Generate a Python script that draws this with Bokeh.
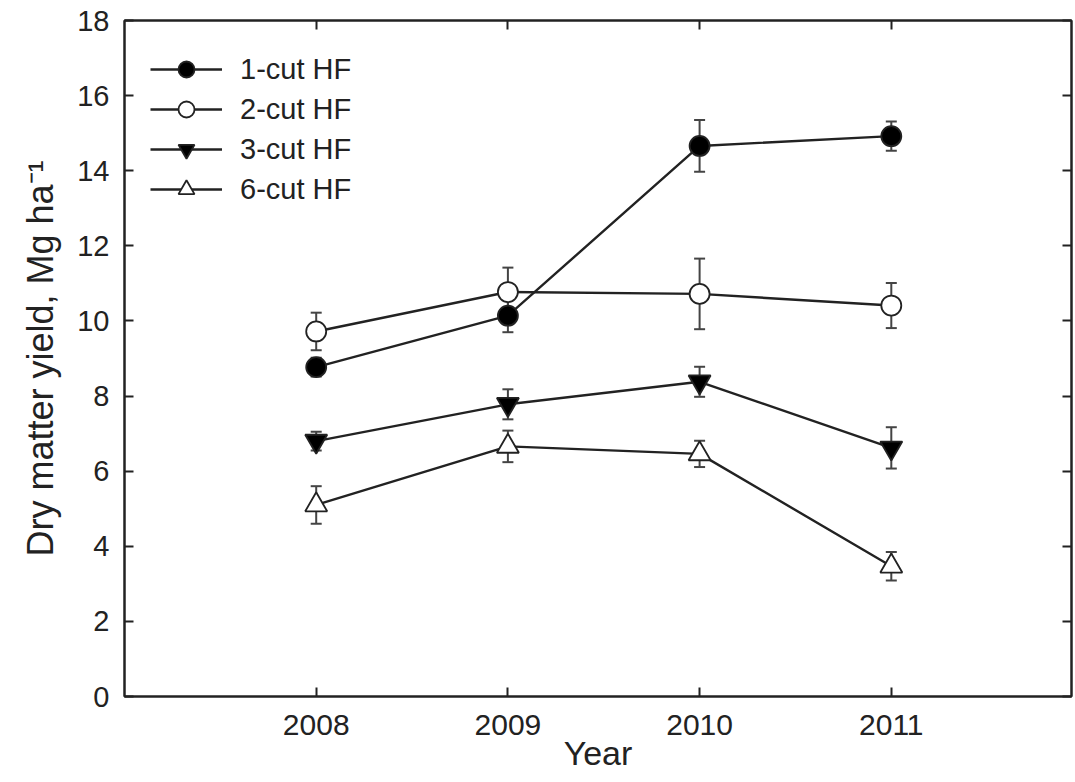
from bokeh.plotting import figure
from bokeh.models import (ColumnDataSource, Whisker, TeeHead, LinearAxis, FixedTicker,
                          Legend, LegendItem, Range1d, CustomLabelingPolicy)
from bokeh.embed import file_html
from bokeh.resources import INLINE

years = [2008, 2009, 2010, 2011]
labels = ["1-cut HF", "2-cut HF", "3-cut HF", "6-cut HF"]
cut1 = [8.77, 10.14, 14.66, 14.92]
err1 = [0.25, 0.44, 0.69, 0.39]
cut2 = [9.72, 10.77, 10.72, 10.41]
err2 = [0.50, 0.65, 0.94, 0.60]
cut3 = [6.80, 7.78, 8.38, 6.62]
err3 = [0.25, 0.40, 0.40, 0.55]
cut6 = [5.10, 6.66, 6.46, 3.47]
err6 = [0.50, 0.42, 0.35, 0.38]
y_ticks = [0, 2, 4, 6, 8, 10, 12, 14, 16, 18]

FONT = "Liberation Sans"
TXT = "#222222"

p = figure(width=1075, height=782, output_backend="svg", toolbar_location=None,
           x_range=Range1d(2007, 2011.94), y_range=Range1d(0, 18),
           min_border_left=124, min_border_right=3, min_border_top=20, min_border_bottom=86)
p.grid.visible = False
p.background_fill_color = "white"
p.border_fill_color = "white"
p.outline_line_color = TXT
p.outline_line_width = 2

hide_all = CustomLabelingPolicy(code="""
const ids = [...indices];
for (const i of ids) indices.unset(i);
return indices;
""")

def style_axis(ax, labels_on=True):
    ax.axis_line_color = TXT
    ax.axis_line_width = 2
    ax.major_tick_line_color = TXT
    ax.major_tick_line_width = 2
    ax.major_tick_in = 9
    ax.major_tick_out = 0
    ax.minor_tick_line_color = None
    ax.major_label_text_font = FONT
    ax.major_label_text_color = TXT
    ax.axis_label_text_font = FONT
    ax.axis_label_text_color = TXT
    ax.axis_label_text_font_style = "normal"
    if not labels_on:
        ax.major_label_policy = hide_all
        ax.major_label_text_font_size = "1px"
        ax.major_label_standoff = 0

xa = p.xaxis[0]
xa.ticker = FixedTicker(ticks=years)
style_axis(xa)
xa.major_label_text_font_size = "30px"
xa.major_label_standoff = 18
xa.axis_label = "Year"
xa.axis_label_text_font_size = "34px"
xa.axis_label_standoff = -4

ya = p.yaxis[0]
ya.ticker = FixedTicker(ticks=y_ticks)
style_axis(ya)
ya.major_label_text_font_size = "29px"
ya.major_label_standoff = 15
ya.axis_label = "Dry matter yield, Mg ha\u207b\u00b9"
ya.axis_label_text_font_size = "36px"
ya.axis_label_standoff = 13

top = LinearAxis(ticker=FixedTicker(ticks=years))
style_axis(top, labels_on=False)
p.add_layout(top, "above")
right = LinearAxis(ticker=FixedTicker(ticks=y_ticks))
style_axis(right, labels_on=False)
p.add_layout(right, "right")

series = [
    (cut1, err1, "circle", "black"),
    (cut2, err2, "circle", "white"),
    (cut3, err3, "inverted_triangle", "black"),
    (cut6, err6, "triangle", "white"),
]

items = []
for (vals, errs, marker, fill), lab in zip(series, labels):
    src = ColumnDataSource(dict(x=years, y=vals,
                                lo=[v - e for v, e in zip(vals, errs)],
                                hi=[v + e for v, e in zip(vals, errs)]))
    w = Whisker(source=src, base="x", upper="hi", lower="lo",
                line_color="#444444", line_width=2,
                upper_head=TeeHead(size=11, line_color="#444444", line_width=2),
                lower_head=TeeHead(size=11, line_color="#444444", line_width=2))
    p.add_layout(w)
    ln = p.line("x", "y", source=src, line_color=TXT, line_width=2.4)
    size = 20 if marker == "circle" else 22
    sc = p.scatter("x", "y", source=src, marker=marker, size=size,
                   fill_color=fill, line_color=TXT, line_width=1.8)
    items.append(LegendItem(label=lab, renderers=[ln, sc]))

legend = Legend(items=items, location=(26, 487))
legend.label_text_font = FONT
legend.label_text_font_size = "29px"
legend.label_text_color = TXT
legend.glyph_width = 72
legend.glyph_height = 40
legend.label_height = 38
legend.spacing = -2
legend.label_standoff = 18
legend.padding = 0
legend.margin = 0
legend.border_line_color = None
legend.background_fill_alpha = 0
p.add_layout(legend, "center")

open("out.html", "w").write(file_html(p, INLINE))
